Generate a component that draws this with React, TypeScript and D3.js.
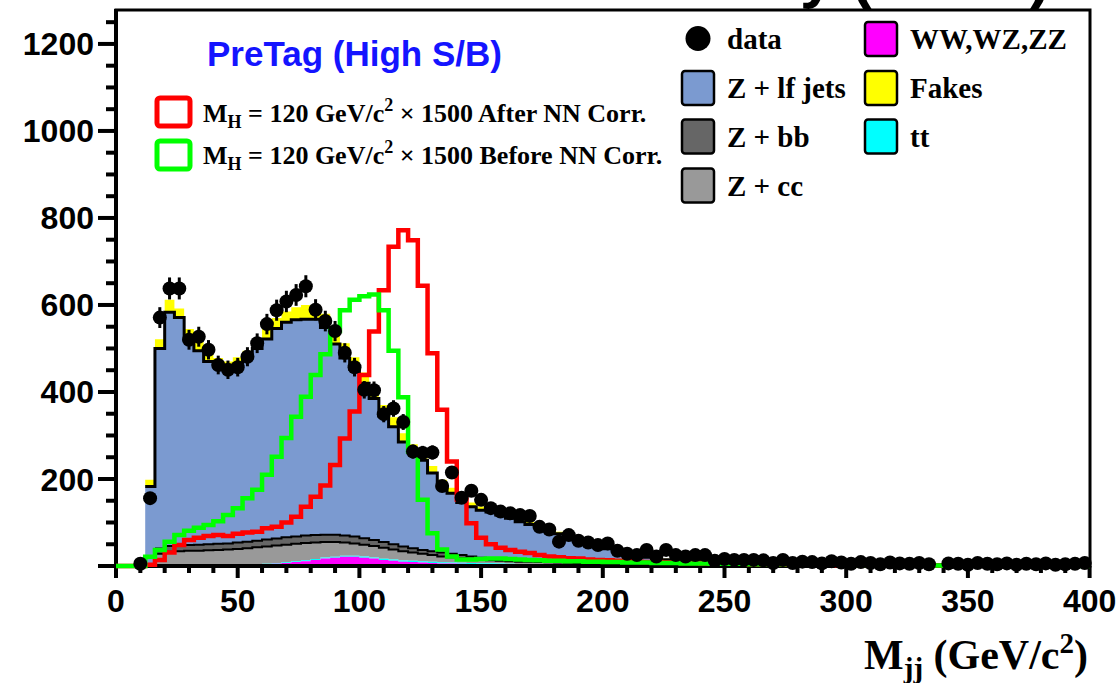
import React from "react";
import * as d3 from "d3";

// Dijet invariant mass, 4 GeV/c^2 bins from 0 to 400
const BIN_WIDTH = 4;
const N_BINS = 100;
const binLow = d3.range(N_BINS).map((i) => i * BIN_WIDTH);

const xTickValues = [0, 50, 100, 150, 200, 250, 300, 350, 400];
const yTickValues = [200, 400, 600, 800, 1000, 1200];

// Observed events per bin
const dataCounts = [
  0, 0, 5, 156, 571, 638, 638, 520, 527, 497,
  462, 451, 457, 481, 512, 556, 588, 608, 623, 643,
  589, 563, 540, 490, 457, 405, 404, 349, 362, 331,
  263, 260, 261, 184, 215, 157, 173, 152, 133, 125,
  121, 117, 115, 90, 84, 56, 71, 58, 54, 48,
  52, 35, 28, 25, 37, 22, 37, 25, 22, 25,
  25, 12, 16, 14, 14, 14, 13, 7, 14, 7,
  10, 9, 6, 11, 8, 5, 9, 7, 4, 8,
  6, 5, 7, 4, 0, 6, 5, 3, 7, 5,
  4, 6, 3, 5, 4, 6, 3, 4, 5, 7,
];

// Background expectations (stacked, bottom to top)
const dibosonCounts = [
  0, 0, 0, 0, 0, 0, 0.5, 0.5, 0.7, 0.8,
  1, 1.2, 1.5, 2, 3, 4, 5, 7, 9, 11,
  14, 17, 19, 21, 21, 19, 17, 14, 12, 10,
  9, 8, 7, 6, 5.5, 5, 4.5, 4, 4, 3.5,
  3.5, 3, 3, 3, 2.8, 2.6, 2.5, 2.4, 2.2, 2,
  2, 1.9, 1.8, 1.7, 1.6, 1.5, 1.4, 1.3, 1.2, 1.2,
  1, 1, 1, 0.9, 0.9, 0.8, 0.8, 0.7, 0.7, 0.7,
  0.6, 0.6, 0.6, 0.5, 0.5, 0.5, 0.5, 0.4, 0.4, 0.4,
  0.4, 0.4, 0.3, 0.3, 0.3, 0.3, 0.3, 0.3, 0.3, 0.2,
  0.2, 0.2, 0.2, 0.2, 0.2, 0.2, 0.2, 0.2, 0.2, 0.2,
];
const ttbarCounts = [
  0, 0, 0, 0, 0, 0, 0.1, 0.2, 0.3, 0.4,
  0.5, 0.6, 0.7, 0.8, 1, 1.2, 1.4, 1.6, 1.8, 2,
  2.2, 2.4, 2.5, 2.6, 2.7, 2.8, 2.8, 2.8, 2.8, 2.8,
  2.8, 2.7, 2.7, 2.6, 2.5, 2.4, 2.3, 2.2, 2.1, 2,
  1.9, 1.8, 1.7, 1.6, 1.5, 1.4, 1.3, 1.2, 1.1, 1,
  1, 0.9, 0.9, 0.8, 0.8, 0.7, 0.7, 0.6, 0.6, 0.6,
  0.5, 0.5, 0.5, 0.4, 0.4, 0.4, 0.4, 0.3, 0.3, 0.3,
  0.3, 0.3, 0.2, 0.2, 0.2, 0.2, 0.2, 0.2, 0.2, 0.2,
  0.1, 0.1, 0.1, 0.1, 0.1, 0.1, 0.1, 0.1, 0.1, 0.1,
  0.1, 0.1, 0.1, 0.1, 0.1, 0.1, 0.1, 0.1, 0.1, 0.1,
];
const zccCounts = [
  0, 0, 0, 0, 28, 33, 33.4, 34.3, 34, 34.8,
  35.5, 36.2, 36.8, 38.2, 39, 39.8, 40.6, 40.4, 40.2, 40,
  37.8, 35.6, 33.5, 30.4, 28.3, 27.2, 26.2, 25.2, 23.2, 21.2,
  19.2, 17.3, 15.3, 13.4, 12, 10.6, 9.2, 7.8, 6.9, 6.5,
  5.6, 5.2, 4.9, 4.6, 4.3, 4, 3.7, 3.4, 3.2, 3,
  2.8, 2.6, 2.4, 2.3, 2.1, 2, 1.9, 1.8, 1.7, 1.6,
  1.5, 1.4, 1.3, 1.3, 1.2, 1.1, 1.1, 1, 1, 0.9,
  0.9, 0.8, 0.8, 0.8, 0.7, 0.7, 0.7, 0.6, 0.6, 0.6,
  0.6, 0.5, 0.5, 0.5, 0.5, 0.5, 0.5, 0.5, 0.5, 0.5,
  0.5, 0.4, 0.4, 0.4, 0.4, 0.4, 0.4, 0.4, 0.4, 0.4,
];
const zbbCounts = [
  0, 0, 0, 0, 12, 13, 13, 13, 14, 14,
  14, 14, 15, 15, 15, 16, 16, 17, 17, 17,
  17, 17, 17, 16, 16, 15, 14, 13, 12, 11,
  10, 9, 9, 9, 8, 7, 6, 5, 4, 4,
  4, 3.8, 3.6, 3.4, 3.2, 3, 2.8, 2.6, 2.4, 2.2,
  2, 1.9, 1.8, 1.7, 1.6, 1.5, 1.4, 1.3, 1.2, 1.1,
  1, 1, 0.9, 0.9, 0.8, 0.8, 0.8, 0.7, 0.7, 0.7,
  0.6, 0.6, 0.6, 0.5, 0.5, 0.5, 0.5, 0.5, 0.4, 0.4,
  0.4, 0.4, 0.4, 0.3, 0.3, 0.3, 0.3, 0.3, 0.3, 0.3,
  0.3, 0.3, 0.3, 0.2, 0.2, 0.2, 0.2, 0.2, 0.2, 0.2,
];
const zlfCounts = [
  0, 0, 0, 183, 460, 537, 524, 472, 446, 420,
  411, 403, 408, 422, 442, 461, 483, 494, 498, 497,
  496, 476, 438, 408, 384, 356, 325, 290, 270, 240,
  221, 206, 180, 152, 139, 121, 114, 109, 107, 101,
  95, 88, 82, 76, 69, 63, 57, 50, 43, 37,
  32, 26, 21, 17, 14, 11, 9, 8, 7, 7,
  6, 6, 5.5, 5, 5, 4.5, 4.5, 4, 4, 3.5,
  3.5, 3, 3, 3, 2.8, 2.6, 2.5, 2.4, 2.3, 2.2,
  2.1, 2, 2, 1.9, 1.8, 1.7, 1.6, 1.5, 1.5, 1.4,
  1.4, 1.3, 1.3, 1.2, 1.2, 1.1, 1.1, 1, 1, 1,
];
const fakeCounts = [
  0, 0, 0, 15, 21, 29, 21, 25, 20, 20,
  16, 15, 18, 17, 20, 26, 24, 25, 29, 33,
  33, 32, 30, 34, 28, 25, 25, 25, 22, 20,
  18, 15, 16, 15, 13, 12, 10, 9, 9, 8,
  7, 7, 6, 6, 5, 5, 5, 4, 4, 4,
  3, 3, 3, 3, 2.5, 2.5, 2.5, 2, 2, 2,
  2, 1.5, 1.5, 1.5, 1.5, 1.5, 1.2, 1.2, 1.2, 1.2,
  1, 1, 1, 1, 1, 0.9, 0.9, 0.9, 0.8, 0.8,
  0.8, 0.7, 0.7, 0.7, 0.6, 0.6, 0.6, 0.6, 0.5, 0.5,
  0.5, 0.5, 0.5, 0.5, 0.5, 0.5, 0.5, 0.5, 0.5, 0.5,
];

// Signal M_H = 120 GeV/c^2, scaled x1500
const higgsAfterNN = [
  0, 0, 0, 3, 14, 31, 48, 60, 65, 69,
  71, 69, 74, 77, 79, 87, 90, 100, 113, 136,
  159, 185, 232, 293, 355, 439, 539, 634, 734, 772,
  749, 644, 489, 359, 240, 153, 98, 65, 50, 42,
  37, 33, 30, 25, 22, 20, 18, 17, 15, 14,
  13, 12, 11, 10, 9, 9, 8, 8, 7, 7,
  6, 6, 5, 5, 5, 4, 4, 4, 4, 3,
  3, 3, 3, 3, 2, 2, 2, 2, 2, 2,
  2, 1, 1, 1, 1, 1, 1, 1, 1, 1,
  1, 1, 1, 0.5, 0.5, 0.5, 0.5, 0.5, 0.5, 0.5,
];
const higgsBeforeNN = [
  0, 0, 0, 21, 37, 56, 71, 81, 88, 94,
  103, 117, 133, 156, 175, 210, 251, 294, 343, 389,
  439, 487, 540, 588, 612, 620, 624, 588, 495, 388,
  263, 152, 75, 38, 22, 15, 15, 16, 17, 17,
  16, 15, 14, 13, 12, 12, 11, 11, 10, 10,
  9, 9, 8, 8, 8, 7, 7, 7, 6, 6,
  6, 5, 5, 5, 5, 4, 4, 4, 4, 4,
  3, 3, 3, 3, 3, 2, 2, 2, 2, 2,
  2, 1, 1, 1, 1, 1, 1, 1, 1, 1,
  0.5, 0.5, 0.5, 0.5, 0, 0, 0, 0, 0, 0,
];

const stackKeys = ["diboson", "ttbar", "zcc", "zbb", "zlf", "fakes"];
const stackColors: Record<string, string> = {
  diboson: "#ff00ff",
  ttbar: "#00ffff",
  zcc: "#999999",
  zbb: "#666666",
  zlf: "#7b9ad0",
  fakes: "#ffff00",
};
// Black outline on top of these layers
const outlined: Record<string, number> = { zcc: 2, zbb: 2, zlf: 3 };

const W = 1120;
const H = 683;
const FRAME = { left: 116, right: 1090, top: 10, bottom: 566 };

const sans = "'Liberation Sans', Arial, Helvetica, sans-serif";
const serif = "'Liberation Serif', 'Times New Roman', Times, serif";

export default function App() {
  const x = d3.scaleLinear().domain([0, 400]).range([FRAME.left, 1089.6]);
  const y = d3.scaleLinear().domain([0, 1278]).range([FRAME.bottom, FRAME.top]);

  const rows = binLow.map((lo, i) => ({
    lo,
    diboson: dibosonCounts[i],
    ttbar: ttbarCounts[i],
    zcc: zccCounts[i],
    zbb: zbbCounts[i],
    zlf: zlfCounts[i],
    fakes: fakeCounts[i],
  }));
  const series = d3.stack<any>().keys(stackKeys)(rows);

  type StepPt = { x: number; y0: number; y1: number };
  const stepPoints = (s: d3.Series<any, string>): StepPt[] =>
    s.flatMap((d, i) => [
      { x: binLow[i], y0: d[0], y1: d[1] },
      { x: binLow[i] + BIN_WIDTH, y0: d[0], y1: d[1] },
    ]);

  const area = d3
    .area<StepPt>()
    .x((d) => x(d.x))
    .y0((d) => y(d.y0))
    .y1((d) => y(d.y1));
  const topLine = d3
    .line<StepPt>()
    .defined((d) => d.y1 > 0)
    .x((d) => x(d.x))
    .y((d) => y(d.y1));

  const histLine = (vals: number[]) =>
    d3
      .line<[number, number]>()
      .x((d) => x(d[0]))
      .y((d) => y(d[1]))(
      vals.flatMap((v, i) => [
        [binLow[i], v] as [number, number],
        [binLow[i] + BIN_WIDTH, v] as [number, number],
      ])
    ) as string;

  const xMinor = d3.range(0, 401, 10).filter((v) => v % 50 !== 0);
  const yMinor = d3.range(0, 1278, 50).filter((v) => v % 200 !== 0);
  const yMajor = d3.range(0, 1201, 200);

  const leftLegend = [
    { label: "Z + lf jets", color: stackColors.zlf, cy: 88 },
    { label: "Z + bb", color: stackColors.zbb, cy: 136.5 },
    { label: "Z + cc", color: stackColors.zcc, cy: 185.5 },
  ];
  const rightLegend = [
    { label: "WW,WZ,ZZ", color: stackColors.diboson, cy: 39 },
    { label: "Fakes", color: stackColors.fakes, cy: 88 },
    { label: "tt", color: stackColors.ttbar, cy: 136.5 },
  ];

  return (
    <svg
      width={W}
      height={H}
      style={{ position: "absolute", left: 0, top: 0, background: "#fff" }}
    >
      <defs>
        <clipPath id="plotArea">
          <rect
            x={FRAME.left}
            y={FRAME.top}
            width={FRAME.right - FRAME.left}
            height={FRAME.bottom - FRAME.top + 3}
          />
        </clipPath>
      </defs>

      {/* clipped title above the pad */}
      <g fontFamily={sans} fontWeight="bold" fontSize={62} fill="#000">
        <text x={800} y={-4}>y</text>
        <text x={851} y={-4}>(</text>
        <text x={1030} y={-4}>)</text>
      </g>

      {/* stacked backgrounds */}
      <g clipPath="url(#plotArea)">
        {series
          .slice()
          .reverse()
          .map((s) => (
            <path key={s.key} d={area(stepPoints(s)) as string} fill={stackColors[s.key]} />
          ))}
        {series
          .filter((s) => outlined[s.key])
          .map((s) => (
            <path
              key={s.key + "-line"}
              d={topLine(stepPoints(s)) as string}
              fill="none"
              stroke="#000"
              strokeWidth={outlined[s.key]}
            />
          ))}
      </g>

      {/* frame and axes */}
      <rect
        x={FRAME.left}
        y={FRAME.top}
        width={FRAME.right - FRAME.left}
        height={FRAME.bottom - FRAME.top}
        fill="none"
        stroke="#000"
        strokeWidth={3}
      />
      <line x1={FRAME.left} x2={FRAME.left} y1={FRAME.top - 1} y2={FRAME.bottom + 2} stroke="#000" strokeWidth={4} />
      <line x1={FRAME.left - 2} x2={FRAME.right + 1} y1={FRAME.bottom} y2={FRAME.bottom} stroke="#000" strokeWidth={4} />

      <g stroke="#000" strokeWidth={4}>
        {yMajor.map((v) => (
          <line key={"ym" + v} x1={FRAME.left - 18} x2={FRAME.left} y1={y(v)} y2={y(v)} />
        ))}
        {yMinor.map((v) => (
          <line key={"yn" + v} x1={FRAME.left - 10} x2={FRAME.left} y1={y(v)} y2={y(v)} />
        ))}
        {xTickValues.map((v) => (
          <line key={"xm" + v} x1={x(v)} x2={x(v)} y1={FRAME.bottom} y2={FRAME.bottom + 12} />
        ))}
        {xMinor.map((v) => (
          <line key={"xn" + v} x1={x(v)} x2={x(v)} y1={FRAME.bottom} y2={FRAME.bottom + 7} />
        ))}
      </g>

      <g fontFamily={sans} fontWeight="bold" fontSize={32} fill="#000">
        {yTickValues.map((v) => (
          <text key={"yl" + v} x={94} y={y(v)} dy="0.36em" textAnchor="end">
            {v}
          </text>
        ))}
        {xTickValues.map((v) => (
          <text key={"xl" + v} x={x(v)} y={612} textAnchor="middle">
            {v}
          </text>
        ))}
      </g>

      {/* axis title */}
      <text x={1088} y={669} fontFamily={serif} fontWeight="bold" fontSize={42} textAnchor="end" fill="#000">
        M
        <tspan fontSize={29} dy={9}>jj</tspan>
        <tspan dy={-9}> (GeV/c</tspan>
        <tspan fontSize={29} dy={-16}>2</tspan>
        <tspan dy={16}>)</tspan>
      </text>

      {/* signal histograms */}
      <g clipPath="url(#plotArea)" fill="none" strokeWidth={4.5} strokeLinejoin="miter">
        <path d={histLine(higgsAfterNN)} stroke="#ff0000" />
        <path d={histLine(higgsBeforeNN)} stroke="#00ff00" />
      </g>

      {/* data with statistical errors */}
      <g fill="#000" stroke="#000">
        {dataCounts.map((n, i) =>
          n > 0 ? (
            <g key={"d" + i}>
              <line
                x1={x(binLow[i] + BIN_WIDTH / 2)}
                x2={x(binLow[i] + BIN_WIDTH / 2)}
                y1={y(n + Math.sqrt(n))}
                y2={y(Math.max(0, n - Math.sqrt(n)))}
                strokeWidth={3}
              />
              <circle cx={x(binLow[i] + BIN_WIDTH / 2)} cy={y(n)} r={7} stroke="none" />
            </g>
          ) : null
        )}
      </g>

      {/* signal legend */}
      <text x={207} y={66} fontFamily={sans} fontWeight="bold" fontSize={35} fill="#1414ff">
        PreTag (High S/B)
      </text>
      <g fontFamily={serif} fontWeight="bold" fontSize={26} fill="#000">
        <rect x={157} y={98} width={33} height={28} rx={3} fill="#fff" stroke="#ff0000" strokeWidth={5} />
        <text x={203} y={122}>
          M<tspan fontSize={18} dy={6}>H</tspan>
          <tspan dy={-6}> = 120 GeV/c</tspan>
          <tspan fontSize={18} dy={-11}>2</tspan>
          <tspan dy={11}> × 1500 After NN Corr.</tspan>
        </text>
        <rect x={157} y={141} width={33} height={28} rx={3} fill="#fff" stroke="#00ff00" strokeWidth={5} />
        <text x={203} y={164}>
          M<tspan fontSize={18} dy={6}>H</tspan>
          <tspan dy={-6}> = 120 GeV/c</tspan>
          <tspan fontSize={18} dy={-11}>2</tspan>
          <tspan dy={11}> × 1500 Before NN Corr.</tspan>
        </text>
      </g>

      {/* background legend */}
      <g fontFamily={serif} fontWeight="bold" fontSize={29} fill="#000">
        <circle cx={698} cy={38.5} r={12.5} fill="#000" />
        <text x={727} y={49}>data</text>
        {leftLegend.map((e) => (
          <g key={e.label}>
            <rect x={682} y={e.cy - 17} width={32} height={34} rx={3} fill={e.color} stroke="#000" strokeWidth={2.5} />
            <text x={727} y={e.cy + 10}>{e.label}</text>
          </g>
        ))}
        {rightLegend.map((e) => (
          <g key={e.label}>
            <rect x={865} y={e.cy - 17} width={32} height={34} rx={3} fill={e.color} stroke="#000" strokeWidth={2.5} />
            <text x={910} y={e.cy + 10}>{e.label}</text>
          </g>
        ))}
      </g>
    </svg>
  );
}
